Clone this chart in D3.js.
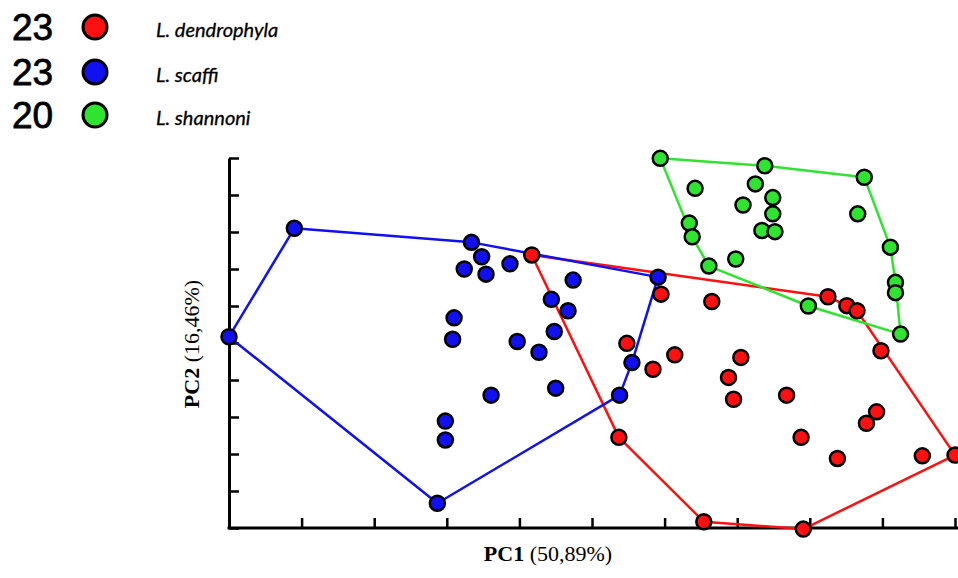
<!DOCTYPE html>
<html>
<head>
<meta charset="utf-8">
<script src="https://cdn.jsdelivr.net/npm/d3@7"></script>
<style>
  body { margin: 0; background: #fff; }
  svg { display: block; }
</style>
</head>
<body>
<div id="chart"></div>
<script>
// PCA scores (in axis-tick units)
const dendrophyla = [
  [4.17, 7.38], [5.95, 6.32], [6.65, 6.12], [8.25, 6.25], [8.51, 6.01], [8.65, 5.87],
  [8.98, 4.79], [5.48, 4.99], [6.14, 4.68], [7.05, 4.61], [5.84, 4.29], [6.88, 4.07],
  [6.95, 3.48], [7.68, 3.59], [8.92, 3.14], [8.78, 2.83], [7.88, 2.45], [5.37, 2.45],
  [8.38, 1.88], [9.55, 1.95], [10.0, 1.97], [6.54, 0.17], [7.91, -0.03]
];
const scaffi = [
  [0.0, 5.17], [0.90, 8.10], [3.34, 7.72], [3.48, 7.33], [3.24, 7.00], [3.54, 6.86],
  [3.87, 7.14], [4.74, 6.70], [4.44, 6.18], [4.67, 5.87], [4.48, 5.31], [3.10, 5.68],
  [3.08, 5.10], [3.97, 5.04], [4.27, 4.75], [5.91, 6.78], [5.55, 4.47], [5.38, 3.59],
  [4.50, 3.78], [3.61, 3.59], [2.98, 2.89], [2.98, 2.38], [2.87, 0.67]
];
const shannoni = [
  [5.94, 9.99], [7.38, 9.79], [8.75, 9.48], [6.42, 9.18], [7.25, 9.30], [7.49, 8.93],
  [7.08, 8.73], [7.49, 8.49], [8.66, 8.49], [7.34, 8.04], [7.52, 8.01], [6.34, 8.24],
  [6.38, 7.87], [6.98, 7.27], [6.61, 7.08], [9.11, 7.59], [9.18, 6.64], [9.18, 6.36],
  [7.98, 6.00], [9.25, 5.24]
];

const speciesNames = ["L. dendrophyla", "L. scaffi", "L. shannoni"];
const speciesCounts = ["23", "23", "20"];
const speciesColors = ["#ff1010", "#1010f0", "#2ee42e"];
const speciesData = [dendrophyla, scaffi, shannoni];

const xTicks = d3.range(0, 11);
const yTicks = d3.range(0, 11);

const svgWidth = 958, svgHeight = 578;
const plot = { left: 229, right: 955, top: 158, bottom: 528 };

const svg = d3.select("#chart")
  .append("svg")
    .attr("width", svgWidth)
    .attr("height", svgHeight);

const xScale = d3.scaleLinear().domain([0, 10]).range([plot.left, plot.right]);
const yScale = d3.scaleLinear().domain([0, 10]).range([plot.bottom, plot.top]);

// axes, ticks pointing inward
const xAxis = svg.append("g")
  .attr("transform", `translate(0,${plot.bottom})`)
  .call(d3.axisTop(xScale).tickValues(xTicks).tickSize(10).tickSizeOuter(0).tickFormat(""));
const yAxis = svg.append("g")
  .attr("transform", `translate(${plot.left},0)`)
  .call(d3.axisRight(yScale).tickValues(yTicks).tickSize(10).tickSizeOuter(0).tickFormat(""));

[xAxis, yAxis].forEach(ax => {
  ax.select(".domain").attr("stroke", "#000").attr("stroke-width", 3);
  ax.selectAll(".tick line").attr("stroke", "#000").attr("stroke-width", 2.5);
});
xAxis.select(".domain").attr("d", `M${plot.left - 1.5},0H${svgWidth}`);

// convex hulls
speciesData.forEach((pts, i) => {
  const hull = d3.polygonHull(pts.map(d => [xScale(d[0]), yScale(d[1])]));
  svg.append("path")
    .attr("d", "M" + hull.join("L") + "Z")
    .attr("fill", "none")
    .attr("stroke", speciesColors[i])
    .attr("stroke-width", 2.5)
    .attr("stroke-linejoin", "round");
});

// points
speciesData.forEach((pts, i) => {
  svg.append("g").selectAll("circle")
    .data(pts)
    .enter()
    .append("circle")
      .attr("cx", d => xScale(d[0]))
      .attr("cy", d => yScale(d[1]))
      .attr("r", 7.5)
      .attr("fill", speciesColors[i])
      .attr("stroke", "#000")
      .attr("stroke-width", 2.5);
});

// axis titles
const xTitle = svg.append("text")
  .attr("x", 548)
  .attr("y", 561)
  .attr("text-anchor", "middle")
  .style("font-family", "'Liberation Serif', serif")
  .style("font-size", "22px");
xTitle.append("tspan").style("font-weight", "bold").text("PC1");
xTitle.append("tspan").text(" (50,89%)");

const yTitle = svg.append("text")
  .attr("transform", "translate(199,344) rotate(-90)")
  .attr("text-anchor", "middle")
  .style("font-family", "'Liberation Serif', serif")
  .style("font-size", "22px");
yTitle.append("tspan").style("font-weight", "bold").text("PC2");
yTitle.append("tspan").text(" (16,46%)");

// legend
const legendRows = [40, 85, 128];
speciesNames.forEach((name, i) => {
  const row = svg.append("g");
  row.append("text")
    .attr("x", 12)
    .attr("y", legendRows[i])
    .style("font-family", "'Liberation Sans', Arial, sans-serif")
    .style("font-size", "37px")
    .style("fill", "#000")
    .style("stroke", "#000")
    .style("stroke-width", 0.8)
    .text(speciesCounts[i]);
  row.append("circle")
    .attr("cx", 95)
    .attr("cy", legendRows[i] - 13)
    .attr("r", 12)
    .attr("fill", speciesColors[i])
    .attr("stroke", "#000")
    .attr("stroke-width", 3);
  row.append("text")
    .attr("x", 156)
    .attr("y", legendRows[i] - 3)
    .style("font-family", "Lato, sans-serif")
    .style("font-style", "italic")
    .style("font-size", "20px")
    .style("fill", "#000")
    .style("stroke", "#000")
    .style("stroke-width", 0.3)
    .text(name);
});
</script>
</body>
</html>
